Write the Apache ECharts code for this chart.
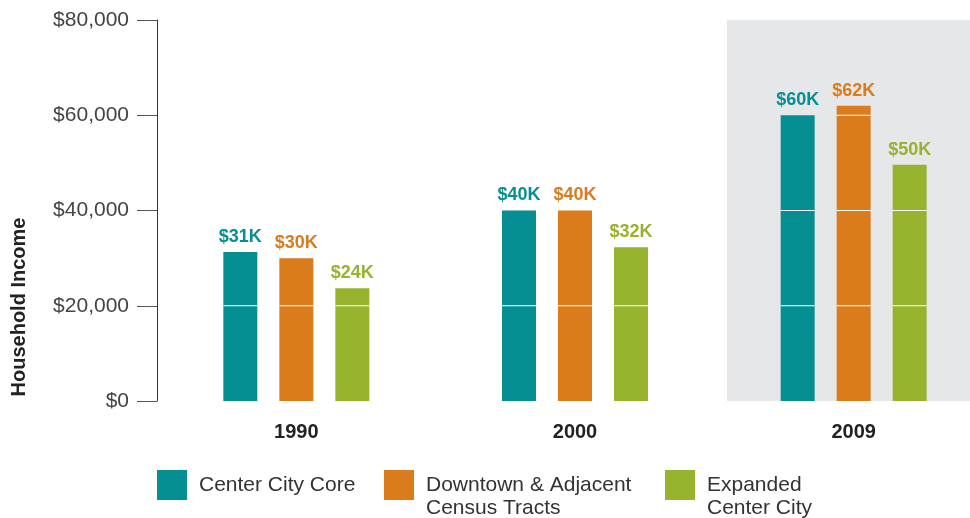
<!DOCTYPE html>
<html>
<head>
<meta charset="utf-8">
<script src="https://cdn.jsdelivr.net/npm/echarts@6/dist/echarts.min.js"></script>
<style>
  html, body { margin: 0; padding: 0; background: #fff; }
  #chart { width: 970px; height: 518px; }
</style>
</head>
<body>
<div id="chart"></div>
<script>
// data
var years = ['1990', '2000', '2009'];
var seriesNames = ['Center City Core', 'Downtown & Adjacent Census Tracts', 'Expanded Center City'];
var legendLabels = ['Center City Core', 'Downtown & Adjacent\nCensus Tracts', 'Expanded\nCenter City'];
var coreIncome = [31300, 40000, 60000];
var downtownIncome = [30000, 40000, 62000];
var expandedIncome = [23700, 32300, 49600];
var yMin = 0, yMax = 80000, yStep = 20000;

var colors = ['#068f92', '#da7b1c', '#96b32d'];
var BAR_W = 34;
var BAR_STEP = 56; // bar width + gap
var FONT = '"Liberation Sans", Arial, Helvetica, sans-serif';

var allSeries = [coreIncome, downtownIncome, expandedIncome];

// white gridline ticks that cut across the bars
var dividers = [];
for (var s = 0; s < allSeries.length; s++) {
	for (var i = 0; i < years.length; i++) {
		for (var g = yStep; g < allSeries[s][i]; g += yStep) {
			dividers.push([i, s, g]);
		}
	}
}

var myChart = echarts.init(document.getElementById('chart'));

var series = [];
for (var k = 0; k < allSeries.length; k++) {
	series.push({
		name: seriesNames[k],
		type: 'bar',
		data: allSeries[k],
		barWidth: BAR_W,
		barGap: ((BAR_STEP - BAR_W) / BAR_W * 100) + '%',
		itemStyle: { color: colors[k] },
		label: {
			show: true,
			position: 'top',
			distance: 6,
			fontFamily: FONT,
			fontWeight: 'bold',
			fontSize: 18,
			color: colors[k],
			formatter: function (p) {
				return '$' + Math.round(p.value / 1000) + 'K';
			}
		}
	});
}
series.push({
	type: 'custom',
	z: 5,
	silent: true,
	encode: { x: 0, y: 2 },
	data: dividers,
	renderItem: function (params, api) {
		var c = api.coord([api.value(0), api.value(2)]);
		var x = c[0] + (api.value(1) - 1) * BAR_STEP;
		return {
			type: 'line',
			shape: { x1: x - BAR_W / 2, y1: c[1], x2: x + BAR_W / 2, y2: c[1] },
			style: { stroke: '#ffffff', lineWidth: 1 }
		};
	}
});

var legendLeft = [157, 384, 665];
var legends = [];
for (var n = 0; n < seriesNames.length; n++) {
	var twoLines = legendLabels[n].indexOf('\n') >= 0;
	// a blank first line keeps the first text line level with the swatch
	var txt = twoLines ? '\n' + legendLabels[n] : legendLabels[n];
	legends.push({
		left: legendLeft[n],
		top: twoLines ? 450.5 : 470,
		padding: 0,
		orient: 'horizontal',
		icon: 'rect',
		itemWidth: 30,
		itemHeight: 30,
		selectedMode: false,
		data: [seriesNames[n]],
		formatter: (function (t) { return function () { return t; }; })(txt),
		textStyle: {
			fontFamily: FONT,
			fontSize: 21,
			lineHeight: 23,
			color: '#333',
			padding: [0, 0, 0, 7]
		}
	});
}

var option = {
	animation: false,
	grid: { left: 157, width: 836, top: 20, bottom: 117, outerBoundsMode: 'none' },
	graphic: [
		{
			type: 'rect',
			z: 0,
			silent: true,
			shape: { x: 727, y: 20, width: 243, height: 381 },
			style: { fill: '#e6e7e9' }
		},
		{
			type: 'text',
			x: 19,
			y: 307,
			rotation: Math.PI / 2,
			silent: true,
			style: {
				text: 'Household Income',
				font: 'bold 20px ' + FONT,
				fill: '#222',
				textAlign: 'center',
				textVerticalAlign: 'middle'
			}
		}
	],
	legend: legends,
	xAxis: {
		type: 'category',
		data: years,
		axisLine: { show: false },
		axisTick: { show: false },
		axisLabel: {
			margin: 21,
			fontFamily: FONT,
			fontWeight: 'bold',
			fontSize: 20,
			color: '#222'
		}
	},
	yAxis: {
		type: 'value',
		min: yMin,
		max: yMax,
		interval: yStep,
		splitLine: { show: false },
		axisLine: { show: true, lineStyle: { color: '#333', width: 1 } },
		axisTick: { show: true, length: 20, lineStyle: { color: '#555' } },
		axisLabel: {
			margin: 28,
			fontFamily: FONT,
			fontSize: 21,
			color: '#444',
			formatter: function (v) { return '$' + v.toLocaleString('en-US'); }
		}
	},
	series: series
};

myChart.setOption(option);
</script>
</body>
</html>
